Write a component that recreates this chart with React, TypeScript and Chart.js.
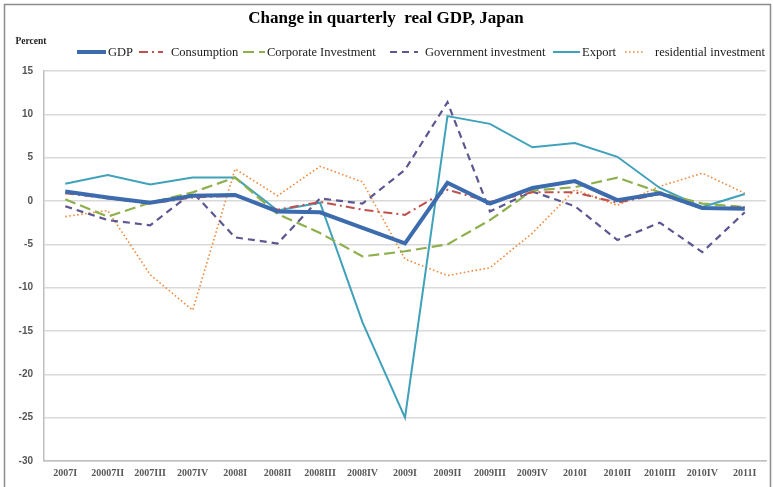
import React, { useEffect, useRef } from "react";
import { Chart, registerables } from "chart.js";

Chart.register(...registerables);

const categories = ["2007I", "20007II", "2007III", "2007IV", "2008I", "2008II", "2008III", "2008IV", "2009I", "2009II", "2009III", "2009IV", "2010I", "2010II", "2010III", "2010IV", "2011I"];
const gdp = [1.1, 0.4, -0.2, 0.6, 0.7, -1.2, -1.3, -3.1, -4.9, 2.1, -0.3, 1.5, 2.3, 0.1, 0.9, -0.8, -0.9];
const consumption = [0.9, 0.3, -0.3, 0.4, 0.6, -1.0, -0.1, -1.0, -1.6, 1.3, -0.1, 1.0, 1.0, -0.2, 0.8, -0.9, -0.7];
const corporateInvestment = [0.2, -1.8, -0.2, 1.0, 2.7, -1.5, -3.7, -6.4, -5.8, -5.0, -2.2, 1.2, 1.6, 2.7, 1.0, -0.3, -0.7];
const governmentInvestment = [-0.6, -2.2, -2.8, 1.0, -4.2, -4.9, 0.3, -0.3, 3.6, 11.4, -1.2, 1.1, -0.6, -4.5, -2.5, -5.9, -1.3];
const exportSeries = [2.0, 3.0, 1.9, 2.7, 2.7, -1.1, -0.2, -14.0, -25.0, 9.8, 8.9, 6.2, 6.7, 5.1, 1.5, -0.7, 0.8];
const residentialInvestment = [-1.8, -1.1, -8.5, -12.6, 3.7, 0.6, 4.0, 2.2, -6.7, -8.6, -7.7, -3.7, 1.3, -0.5, 1.7, 3.2, 0.9];

const titleText = "Change in quarterly  real GDP, Japan";
const yUnitText = "Percent";

const SERIF = "'Liberation Serif', 'Times New Roman', serif";

// legend layout: [lineStart, lineEnd, textX]
const legendSlots = [
  [77, 106, 108],
  [139, 163, 171],
  [243, 265, 267],
  [390, 418, 425],
  [553, 580, 582],
  [625, 645, 655],
];

const decorPlugin = {
  id: "decor",
  afterDraw(chart: any) {
    const ctx = chart.ctx as CanvasRenderingContext2D;
    ctx.save();
    // frame
    ctx.strokeStyle = "#8c8c8c";
    ctx.lineWidth = 1.5;
    ctx.setLineDash([]);
    ctx.beginPath();
    ctx.moveTo(4.5, 487);
    ctx.lineTo(4.5, 4.5);
    ctx.lineTo(770.5, 4.5);
    ctx.lineTo(770.5, 487);
    ctx.stroke();

    // title
    ctx.fillStyle = "#000";
    ctx.font = `bold 17px ${SERIF}`;
    ctx.textAlign = "center";
    ctx.textBaseline = "middle";
    ctx.fillText(titleText, 386, 19);

    // unit
    ctx.font = `bold 9.5px ${SERIF}`;
    ctx.fillStyle = "#222";
    ctx.fillText(yUnitText, 31, 42);

    // legend
    ctx.textAlign = "left";
    ctx.font = `12.5px ${SERIF}`;
    const ly = 52;
    chart.data.datasets.forEach((ds: any, i: number) => {
      const slot = legendSlots[i];
      ctx.save();
      ctx.strokeStyle = ds.borderColor;
      ctx.lineWidth = ds.borderWidth;
      ctx.setLineDash(ds.borderDash || []);
      ctx.beginPath();
      ctx.moveTo(slot[0], ly);
      ctx.lineTo(slot[1], ly);
      ctx.stroke();
      ctx.restore();
      ctx.fillStyle = "#1a1a1a";
      ctx.fillText(ds.label, slot[2], ly + 1);
    });
    ctx.restore();
  },
};

export default function App() {
  const ref = useRef<HTMLCanvasElement | null>(null);
  useEffect(() => {
    if (!ref.current) return;
    const mk = (label: string, data: number[], color: string, width: number, dash: number[]) => ({
      label,
      data,
      borderColor: color,
      backgroundColor: color,
      borderWidth: width,
      borderDash: dash,
      pointRadius: 0,
      pointHoverRadius: 0,
      tension: 0,
      fill: false,
    });
    const chart = new Chart(ref.current, {
      type: "line",
      data: {
        labels: categories,
        datasets: [
          mk("GDP", gdp, "#3D6CAE", 4, []),
          mk("Consumption", consumption, "#C0504D", 2, [9, 4, 2, 4]),
          mk("Corporate Investment", corporateInvestment, "#8DB04C", 2.2, [11, 5]),
          mk("Government investment", governmentInvestment, "#5C5790", 2.2, [7, 5]),
          mk("Export", exportSeries, "#3FA1BA", 2, []),
          mk("residential investment", residentialInvestment, "#F08A3E", 1.6, [1.6, 2.4]),
        ],
      },
      options: {
        responsive: false,
        animation: false,
        layout: { padding: { top: 71, right: 7, bottom: 0, left: 0 } },
        plugins: {
          legend: { display: false },
          title: { display: false },
          tooltip: { enabled: false },
        },
        scales: {
          x: {
            offset: true,
            grid: { display: false, drawTicks: false },
            border: { display: true, color: "#bfbfbf", width: 1.5 },
            ticks: {
              autoSkip: false,
              maxRotation: 0,
              padding: 6,
              color: "#595959",
              font: { family: SERIF, size: 10, weight: "bold" },
            },
            afterFit: (s: any) => { s.height = 26; },
          },
          y: {
            min: -30,
            max: 15,
            grid: { color: "#d9d9d9", lineWidth: 1.5, drawTicks: false },
            border: { display: true, color: "#bfbfbf", width: 1.5 },
            ticks: {
              stepSize: 5,
              padding: 11,
              color: "#555",
              font: { family: "'Liberation Sans', Arial, sans-serif", size: 10, weight: "bold" },
            },
            afterFit: (s: any) => { s.width = 44; },
          },
        },
      },
      plugins: [decorPlugin],
    } as any);
    return () => chart.destroy();
  }, []);
  return (
    <div style={{ position: "absolute", left: 0, top: 0, width: 773, height: 487, background: "#fff" }}>
      <canvas ref={ref} width={773} height={487} style={{ display: "block", width: 773, height: 487 }} />
    </div>
  );
}
